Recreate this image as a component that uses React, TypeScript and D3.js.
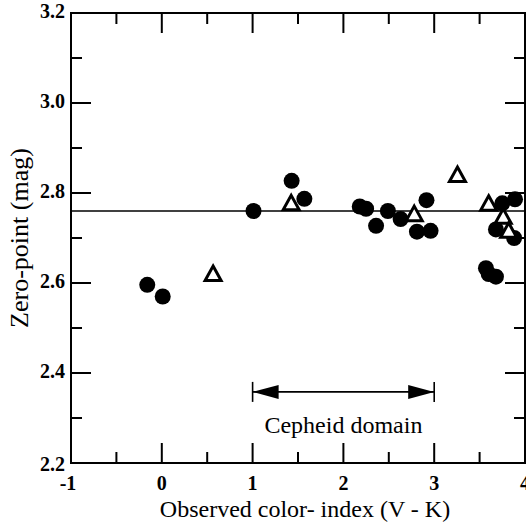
import React from "react";
import * as d3 from "d3";

// filled circles
const circleX = [-0.16, 0.01, 1.01, 1.43, 1.57, 2.18, 2.25, 2.36, 2.49, 2.63, 2.81, 2.915, 2.96, 3.57, 3.6, 3.68, 3.68, 3.75, 3.89, 3.88];
const circleY = [2.596, 2.57, 2.76, 2.827, 2.787, 2.77, 2.765, 2.727, 2.76, 2.742, 2.714, 2.784, 2.716, 2.633, 2.62, 2.614, 2.719, 2.777, 2.786, 2.7];

// open triangles
const triX = [0.565, 1.425, 2.78, 3.256, 3.6, 3.76, 3.82];
const triY = [2.62, 2.777, 2.753, 2.84, 2.776, 2.747, 2.716];

const xTicks = [-1, 0, 1, 2, 3, 4];
const xMinor = [-0.5, 0.5, 1.5, 2.5, 3.5];
const yTicks = [2.2, 2.4, 2.6, 2.8, 3.0, 3.2];
const yMinor = [2.3, 2.5, 2.7, 2.9, 3.1];

const zeroPoint = 2.76;
const domainFrom = 1;
const domainTo = 3;
const domainY = 2.358;

const W = 526;
const H = 530;
const serif = "'Liberation Serif', 'Times New Roman', serif";

export default function App() {
  const x = d3.scaleLinear().domain([-1, 4]).range([71, 525]);
  const y = d3.scaleLinear().domain([2.2, 3.2]).range([463, 13]);
  const [x0, x1] = x.range();
  const [y0, y1] = y.range();
  const major = 20;
  const minor = 11;

  const tri = (cx: number, cy: number) =>
    `M${cx},${cy - 8} L${cx + 8},${cy + 6.5} L${cx - 8},${cy + 6.5} Z`;

  const ay = y(domainY);
  const ax0 = x(domainFrom);
  const ax1 = x(domainTo);

  return (
    <svg width={W} height={H} style={{ position: "absolute", left: 0, top: 0, background: "#fff" }}>
      {/* frame */}
      <rect x={x0} y={y1} width={x1 - x0} height={y0 - y1} fill="none" stroke="#000" strokeWidth={2} />

      {/* x ticks bottom + top */}
      {xTicks.map((t) => (
        <g key={"xt" + t}>
          <line x1={x(t)} x2={x(t)} y1={y0} y2={y0 - major} stroke="#000" strokeWidth={2} />
          <line x1={x(t)} x2={x(t)} y1={y1} y2={y1 + major} stroke="#000" strokeWidth={2} />
          <text x={x(t) - (t < 0 ? 3 : 0)} y={490} textAnchor="middle" fontFamily={serif} fontWeight="bold" fontSize={20}>
            {t}
          </text>
        </g>
      ))}
      {xMinor.map((t) => (
        <g key={"xm" + t}>
          <line x1={x(t)} x2={x(t)} y1={y0} y2={y0 - minor} stroke="#000" strokeWidth={2} />
          <line x1={x(t)} x2={x(t)} y1={y1} y2={y1 + minor} stroke="#000" strokeWidth={2} />
        </g>
      ))}

      {/* y ticks left + right */}
      {yTicks.map((t) => (
        <g key={"yt" + t}>
          <line x1={x0} x2={x0 + major} y1={y(t)} y2={y(t)} stroke="#000" strokeWidth={2} />
          <line x1={x1} x2={x1 - major} y1={y(t)} y2={y(t)} stroke="#000" strokeWidth={2} />
          <text x={65} y={y(t) + (t === 2.2 ? 3 : 0)} textAnchor="end" dominantBaseline="middle" fontFamily={serif} fontWeight="bold" fontSize={20}>
            {t.toFixed(1)}
          </text>
        </g>
      ))}
      {yMinor.map((t) => (
        <g key={"ym" + t}>
          <line x1={x0} x2={x0 + minor} y1={y(t)} y2={y(t)} stroke="#000" strokeWidth={2} />
          <line x1={x1} x2={x1 - minor} y1={y(t)} y2={y(t)} stroke="#000" strokeWidth={2} />
        </g>
      ))}

      {/* mean zero-point line */}
      <line x1={x0} x2={x1} y1={y(zeroPoint)} y2={y(zeroPoint)} stroke="#000" strokeWidth={1.6} />

      {/* data */}
      {circleX.map((v, i) => (
        <circle key={"c" + i} cx={x(v)} cy={y(circleY[i])} r={8} fill="#000" />
      ))}
      {triX.map((v, i) => (
        <path key={"t" + i} d={tri(x(v), y(triY[i]))} fill="#fff" stroke="#000" strokeWidth={3} strokeLinejoin="miter" />
      ))}

      {/* Cepheid domain */}
      <line x1={ax0} x2={ax1} y1={ay} y2={ay} stroke="#000" strokeWidth={1.6} />
      <line x1={ax0} x2={ax0} y1={ay - 10} y2={ay + 10} stroke="#000" strokeWidth={1.6} />
      <line x1={ax1} x2={ax1} y1={ay - 10} y2={ay + 10} stroke="#000" strokeWidth={1.6} />
      <path d={`M${ax0},${ay} L${ax0 + 26},${ay - 7} L${ax0 + 26},${ay + 7} Z`} fill="#000" />
      <path d={`M${ax1},${ay} L${ax1 - 26},${ay - 7} L${ax1 - 26},${ay + 7} Z`} fill="#000" />
      <text x={x(2)} y={433} textAnchor="middle" fontFamily={serif} fontSize={24}>
        Cepheid domain
      </text>

      {/* axis titles */}
      <text x={305} y={517} textAnchor="middle" fontFamily={serif} fontSize={24}>
        Observed color- index (V - K)
      </text>
      <text
        transform={`translate(28,${(y0 + y1) / 2}) rotate(-90)`}
        textAnchor="middle"
        fontFamily={serif}
        fontSize={26}
      >
        Zero-point (mag)
      </text>
    </svg>
  );
}
